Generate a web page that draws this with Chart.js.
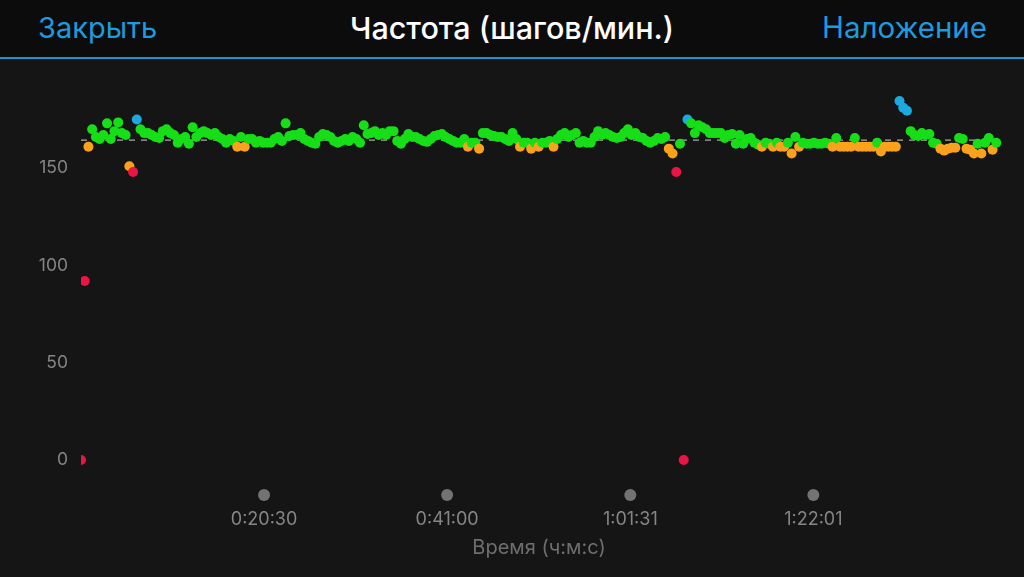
<!DOCTYPE html>
<html lang="ru">
<head>
<meta charset="utf-8">
<title>Частота (шагов/мин.)</title>
<script src="https://cdn.jsdelivr.net/npm/chart.js@4.4.1/dist/chart.umd.min.js"></script>
<style>
    html, body { margin: 0; padding: 0; width: 1024px; height: 577px; background: #151515; overflow: hidden; font-family: Inter, "Open Sans", sans-serif; }
    .top-bar { position: absolute; left: 0; top: 0; width: 1024px; height: 57px; background: #0c0c0c; border-bottom: 2px solid #1b93d3; }
    .top-bar span { position: absolute; top: 0; line-height: 55px; font-size: 29px; }
    #btn-close { left: 38px; color: #1f9ade; }
    #chart-title { left: 0; width: 1024px; text-align: center; color: #fff; font-weight: 500; font-size: 30.5px; }
    #btn-overlay { right: 37px; color: #1f9ade; font-size: 29.5px; }
    .chart-wrap { position: absolute; left: 0; top: 59px; width: 1024px; height: 518px; }
</style>
</head>
<body>
<div class="top-bar">
    <span id="btn-close">Закрыть</span>
    <span id="chart-title">Частота (шагов/мин.)</span>
    <span id="btn-overlay">Наложение</span>
</div>
<div class="chart-wrap"><canvas id="cadenceChart" width="1024" height="518"></canvas></div>
<script>
// шаг записи, сек
const SAMPLE_SEC = 25;

// каденс по точкам (шагов/мин.)
const cadence = [
    0, 92, 161, 170, 166, 165, 167, 173, 165, 169,
    173.5, 168, 167, 151, 148, 175, 170, 168, 168, 167,
    166, 165.5, 169, 170, 168, 167, 163, 165, 166, 162.5,
    171, 166, 168, 169, 168, 167, 168, 166, 165, 163,
    165, 164, 161, 166, 161, 165, 165, 163, 164, 163,
    163, 163, 165, 166, 164, 173, 166.5, 167, 167, 168,
    165, 164, 163, 162.5, 166, 167.5, 167, 166, 164, 163,
    164, 165, 164, 166, 165, 163, 172, 167.5, 168, 169,
    167, 168, 167, 169, 169, 164, 162.5, 165, 167.5, 166,
    166, 165, 164, 163.5, 165, 166.5, 167, 167.5, 166, 165,
    164, 163, 163, 165, 161, 163, 163, 160, 168, 168,
    167, 166.5, 166, 166, 165, 164, 168, 165, 161, 163,
    163, 160, 163, 161, 163, 163, 164, 161, 165, 167,
    168, 166, 167, 168, 163, 164, 163, 163, 166, 169,
    167, 168, 167, 166, 165.5, 166, 168, 170, 167, 168,
    166, 165.5, 164, 163, 164, 165.5, 165, 166, 160, 157.5,
    148, 162.5, 0, 175, 173, 168, 172, 171, 170, 168,
    168, 168, 168, 165.5, 167, 167.5, 162.5, 167, 162.5, 165,
    165.5, 163, 162, 161, 163, 162.5, 161, 163, 161, 161,
    163, 157.5, 166, 161, 163, 162.5, 162.5, 163, 162.5, 162.5,
    163, 162.5, 161, 165.5, 161, 161, 161, 161, 165.5, 161,
    161, 161, 161, 161, 163, 158.5, 161, 161, 161, 161,
    184.5, 181, 179.5, 169, 167, 166.5, 168, 167, 167.5, 163,
    162.5, 160, 159, 160, 160.5, 160.5, 165.5, 165, 160, 159.5,
    157.5, 162.5, 157.5, 163, 165.5, 159.5, 163
];

// средний каденс (пунктир)
const AVG_CADENCE = 164.4;
const X_MAX = 6155;
const Y_MAX = 194;

// подписи осей
const xTickValues = [1230, 2460, 3691, 4921];
const xTickLabels = ['0:20:30', '0:41:00', '1:01:31', '1:22:01'];
const yTickValues = [0, 50, 100, 150];

// зоны каденса
function zoneColor(v) {
    if (v < 150) return '#ec1443';
    if (v < 162) return '#fba21d';
    if (v < 174) return '#16de17';
    return '#1ca9e2';
}

// серые точки под осью X
const tickDots = {
    id: 'tickDots',
    afterDraw(chart) {
        const ctx = chart.ctx;
        const xs = chart.scales.x;
        ctx.save();
        ctx.fillStyle = '#737373';
        xTickValues.forEach(v => {
            ctx.beginPath();
            ctx.arc(xs.getPixelForValue(v), chart.chartArea.bottom + 35, 6, 0, Math.PI * 2);
            ctx.fill();
        });
        ctx.restore();
    }
};

const ctx = document.getElementById('cadenceChart').getContext('2d');

new Chart(ctx, {
    type: 'scatter',
    data: {
        datasets: [
            {
                label: 'Частота',
                data: cadence.map((v, i) => ({ x: i * SAMPLE_SEC, y: v })),
                pointRadius: 5,
                pointBorderWidth: 0,
                pointBackgroundColor: c => zoneColor(c.raw.y),
                showLine: false,
                clip: { left: 0, top: false, right: false, bottom: false }
            },
            {
                type: 'line',
                label: 'Среднее',
                data: [{ x: 0, y: AVG_CADENCE }, { x: X_MAX, y: AVG_CADENCE }],
                borderColor: '#cfcfcf',
                borderWidth: 1,
                borderDash: [6, 6],
                pointRadius: 0
            }
        ]
    },
    options: {
        responsive: false,
        animation: false,
        events: [],
        layout: { padding: { top: 1, right: 27, bottom: 0, left: 0 } },
        plugins: { legend: { display: false }, tooltip: { enabled: false } },
        scales: {
            x: {
                type: 'linear',
                min: 0,
                max: X_MAX,
                grid: { display: false, drawTicks: false },
                border: { display: false },
                afterBuildTicks: s => { s.ticks = xTickValues.map(v => ({ value: v })); },
                afterFit: s => { s.height = 117; },
                ticks: {
                    color: '#858585',
                    font: { family: 'Inter', size: 18 },
                    padding: 49,
                    maxRotation: 0,
                    callback: v => xTickLabels[xTickValues.indexOf(v)]
                },
                title: {
                    display: true,
                    text: 'Время (ч:м:с)',
                    color: '#6e6e6e',
                    font: { family: 'Inter', size: 20 },
                    padding: { top: 0, bottom: 17 }
                }
            },
            y: {
                min: 0,
                max: Y_MAX,
                grid: { display: false, drawTicks: false },
                border: { display: false },
                afterBuildTicks: s => { s.ticks = yTickValues.map(v => ({ value: v })); },
                afterFit: s => { s.width = 81; },
                ticks: {
                    color: '#858585',
                    font: { family: 'Inter', size: 17.5 },
                    padding: 13
                }
            }
        }
    },
    plugins: [tickDots]
});
</script>
</body>
</html>
